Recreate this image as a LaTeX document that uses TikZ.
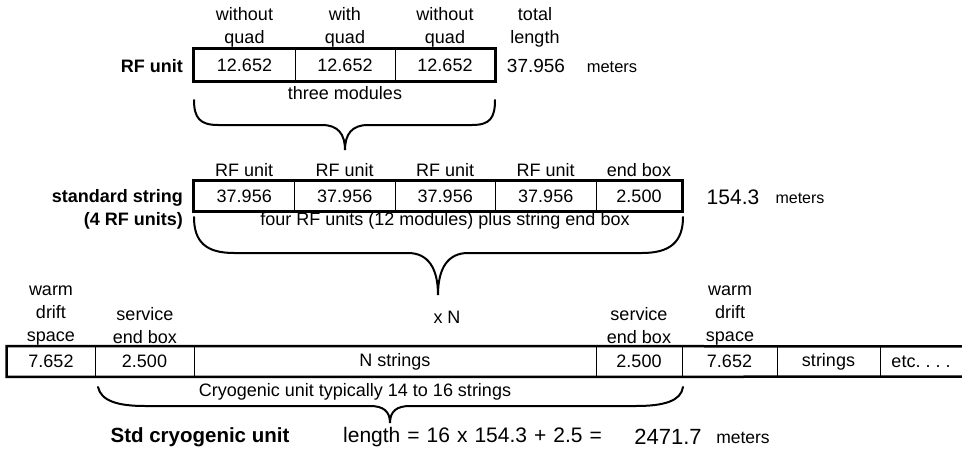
\documentclass[tikz,border=0pt]{standalone}
\usepackage{fontspec}
\setmainfont{Liberation Sans}
\tikzset{
  txt/.style={font=\fontsize{18}{23}\selectfont, align=center, inner sep=0pt},
  big/.style={txt, font=\fontsize{19}{23}\selectfont},
  unit/.style={txt, font=\fontsize{16}{23}\selectfont},
  head/.style={txt, font=\fontsize{18}{23}\selectfont\bfseries, align=right, anchor=east},
  cell/.style={txt, draw, line width=0.8pt, minimum height=30},
  frame/.style={line width=2.5pt},
  brc/.style={line width=2pt, line cap=round}
}
\begin{document}
\begin{tikzpicture}[x=1pt, y=-1pt]
    \useasboundingbox (0,0) rectangle (962,450);

    % RF unit
    \node[cell, minimum width=101, minimum height=32] (m1) at (244.5,65) {12.652};
    \node[cell, minimum width=100, minimum height=32] (m2) at (345,65) {12.652};
    \node[cell, minimum width=100, minimum height=32] (m3) at (445,65) {12.652};
    \draw[frame] (m1.north west) rectangle (m3.south east);
    \node[txt] (qm1) at (244.5,27.5) {without\\quad};
    \node[txt] (qm2) at (345,27.5) {with\\quad};
    \node[txt] (qm3) at (445,27.5) {without\\quad};
    \node[txt] (tot) at (535,27.5) {total\\length};
    \node[head] (rfu) at (183,66) {RF unit};
    \node[big] (len1) at (536,66) {37.956};
    \node[unit, font=\fontsize{16.5}{23}\selectfont] (met1) at (612,67) {meters};
    \node[txt] (three) at (345,93) {three modules};
    \draw[brc] (194,100) .. controls (194,118) and (200,125) .. (218,125) -- (322,125)
        .. controls (338,125) and (345,134) .. (345,150)
        .. controls (345,134) and (352,125) .. (368,125) -- (472,125)
        .. controls (490,125) and (495,118) .. (495,100);

    % standard string
    \node[cell, minimum width=100.5] (u1) at (244.25,196) {37.956};
    \node[cell, minimum width=100.5] (u2) at (344.75,196) {37.956};
    \node[cell, minimum width=100.5] (u3) at (445.25,196) {37.956};
    \node[cell, minimum width=100.5] (u4) at (545.75,196) {37.956};
    \node[cell, minimum width=86] (eb) at (639,196) {2.500};
    \draw[frame] (u1.north west) rectangle (eb.south east);
    \node[txt] (lu1) at (244.25,170) {RF unit};
    \node[txt] (lu2) at (344.75,170) {RF unit};
    \node[txt] (lu3) at (445.25,170) {RF unit};
    \node[txt] (lu4) at (545.75,170) {RF unit};
    \node[txt] (leb) at (639,170) {end box};
    \node[head] (std) at (183,209.5) {standard string\\(4 RF units)};
    \node[big, font=\fontsize{21}{23}\selectfont] (len2) at (733,197) {154.3};
    \node[unit] (met2) at (800,198) {meters};
    \node[txt] (four) at (445,221) {four RF units (12 modules) plus string end box};
    \draw[brc] (194,217) .. controls (194,242) and (206,253) .. (234,253) -- (408,253)
        .. controls (428,253) and (438,268) .. (438,295)
        .. controls (438,268) and (448,253) .. (468,253) -- (642,253)
        .. controls (670,253) and (683,242) .. (683,217);

    % cryogenic unit
    \node[cell, minimum width=88] (w1) at (51,361.5) {7.652};
    \node[cell, minimum width=99] (s1) at (144.5,361.5) {2.500};
    \node[cell, minimum width=402] (ns) at (395,361.5) {N strings};
    \node[cell, minimum width=86] (s2) at (639,361.5) {2.500};
    \node[cell, minimum width=95] (w2) at (729.5,361.5) {7.652};
    \node[cell, minimum width=103] (st) at (828.5,361.5) {strings};
    \node[txt, minimum width=82, minimum height=30] (etc) at (921,361.5) {etc.\ .\ .\ .};
    \draw[frame] (etc.north east) -- (w1.north west) -- (w1.south west) -- (etc.south east);
    \node[txt] (lw1) at (51,316) {warm\\drift\\space};
    \node[txt] (ls1) at (145,325.5) {service\\end box};
    \node[txt] (xn) at (447,317) {x N};
    \node[txt] (ls2) at (639,325.5) {service\\end box};
    \node[txt] (lw2) at (730,316) {warm\\drift\\space};
    \node[txt] (typ) at (355,392) {Cryogenic unit typically 14 to 16 strings};
    \draw[brc] (98,387) .. controls (101,401) and (118,406) .. (145,406) -- (370,406)
        .. controls (383,406) and (390,411) .. (390,423)
        .. controls (390,411) and (397,406) .. (410,406) -- (636,406)
        .. controls (664,406) and (681,401) .. (683,387);
    \node[head, anchor=center, font=\fontsize{20.5}{23}\selectfont\bfseries] (cry) at (200,437) {Std cryogenic unit};
    \node[txt, anchor=west, font=\fontsize{21}{23}\selectfont] (form) at (343,437) {\spaceskip=7pt\relax length = 16 x 154.3 + 2.5 =};
    \node[big, font=\fontsize{22}{23}\selectfont] (len3) at (668,437) {2471.7};
    \node[unit, font=\fontsize{17.5}{23}\selectfont] (met3) at (743,438) {meters};

\end{tikzpicture}
\end{document}
